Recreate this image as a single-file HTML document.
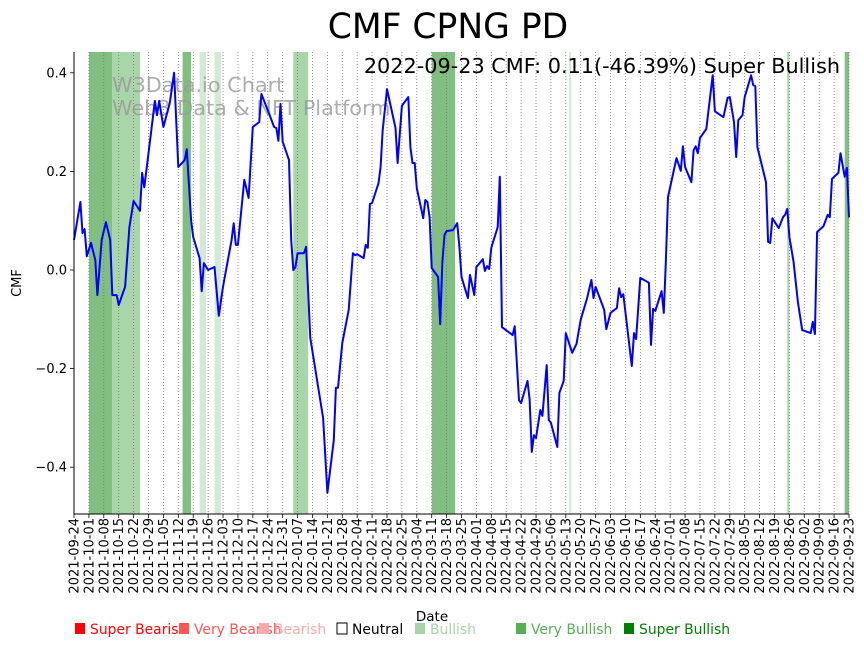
<!DOCTYPE html>
<html><head><meta charset="utf-8">
<style>
body{margin:0;background:#fff;}
svg{display:block;font-family:"DejaVu Sans","Liberation Sans",sans-serif;}
</style></head>
<body>
<svg id="chart" width="864" height="646" viewBox="0 0 864 646" xmlns="http://www.w3.org/2000/svg">
<text x="448" y="38" text-anchor="middle" font-size="34.5" fill="#000">CMF CPNG PD</text>
<g id="bands"></g>
<g id="grid"></g>
<text x="112" y="92" font-size="20.8" fill="#999" opacity="0.8">W3Data.io Chart</text>
<text x="112" y="115" font-size="20.8" fill="#999" opacity="0.8">Web3 Data &amp; NFT Platform</text>
<g id="line"></g>
<text x="840" y="73" text-anchor="end" font-size="20.8" fill="#000">2022-09-23 CMF: 0.11(-46.39%) Super Bullish</text>
<g id="axes"></g>
<text x="432" y="621" text-anchor="middle" font-size="13.5">Date</text>
<text transform="translate(21,283) rotate(-90)" text-anchor="middle" font-size="13">CMF</text>
<g id="legend"></g>
</svg>
<script>
const dayOffsets=[0,3,4,5,6,8,10,11,13,15,17,18,20,21,24,26,28,31,32,33,35,38,39,40,42,45,47,49,52,53,55,56,59,60,61,63,66,68,70,74,75,76,77,80,82,84,87,88,91,94,95,96,97,98,101,102,103,104,105,108,109,111,117,119,122,123,124,126,129,131,132,133,136,137,138,139,140,143,144,145,147,151,152,154,157,158,159,160,161,164,165,166,167,168,171,172,173,174,175,178,180,181,182,185,186,188,189,192,193,194,195,196,199,200,201,206,207,209,210,213,214,215,216,217,219,220,222,223,224,227,228,230,231,234,236,238,241,243,244,245,249,250,252,255,256,257,258,262,263,264,266,270,271,272,273,276,277,278,279,283,285,286,287,290,291,292,293,294,297,300,301,305,307,308,310,311,312,314,315,318,319,320,321,325,326,327,328,331,333,334,335,336,338,340,342,346,347,348,349,352,354,355,356,359,360,362,363,364];
const cmfValues=[0.061,0.138,0.075,0.083,0.028,0.055,0.020,-0.051,0.061,0.097,0.061,-0.051,-0.051,-0.071,-0.034,0.087,0.140,0.120,0.197,0.168,0.237,0.343,0.314,0.343,0.290,0.339,0.400,0.209,0.223,0.245,0.101,0.067,0.024,-0.043,0.014,0.000,0.006,-0.093,-0.034,0.061,0.095,0.051,0.051,0.183,0.146,0.290,0.300,0.357,0.324,0.290,0.288,0.262,0.337,0.260,0.223,0.061,0.000,0.006,0.034,0.034,0.047,-0.138,-0.300,-0.452,-0.345,-0.239,-0.239,-0.148,-0.081,0.034,0.030,0.032,0.024,0.051,0.045,0.134,0.136,0.176,0.209,0.284,0.367,0.288,0.217,0.333,0.351,0.249,0.217,0.217,0.166,0.105,0.142,0.138,0.107,0.004,-0.014,-0.110,0.014,0.071,0.079,0.081,0.095,0.047,-0.014,-0.057,-0.010,-0.051,0.006,0.022,-0.002,0.008,0.002,0.045,0.087,0.189,-0.116,-0.132,-0.114,-0.264,-0.270,-0.225,-0.262,-0.369,-0.335,-0.341,-0.284,-0.296,-0.193,-0.304,-0.310,-0.359,-0.249,-0.225,-0.128,-0.168,-0.150,-0.101,-0.057,-0.020,-0.057,-0.034,-0.081,-0.120,-0.087,-0.077,-0.037,-0.055,-0.049,-0.195,-0.128,-0.140,-0.016,-0.026,-0.152,-0.079,-0.083,-0.043,-0.087,0.020,0.148,0.227,0.201,0.251,0.209,0.178,0.243,0.251,0.237,0.268,0.286,0.395,0.322,0.310,0.349,0.351,0.300,0.229,0.304,0.314,0.351,0.395,0.375,0.373,0.249,0.178,0.057,0.055,0.105,0.085,0.107,0.112,0.124,0.067,0.016,-0.065,-0.122,-0.128,-0.105,-0.130,0.077,0.089,0.112,0.107,0.185,0.197,0.237,0.189,0.207,0.107];
const bandStarts=[7,18,51,59,66,103,168,232.5,335,362];
const bandEnds=[18,31,55,62,69,110,179,233.5,336,364];
const bandLevels=["super","very","super","bull","bull","very","super","bull","very","super"];
const yTicks=[-0.4,-0.2,0.0,0.2,0.4];
const yTickLabels=["\u22120.4","\u22120.2","0.0","0.2","0.4"];
const legendLabels=["Super Bearish","Very Bearish","Bearish","Neutral","Bullish","Very Bullish","Super Bullish"];
const legendColors=["#ff0000","#ff5555","#ffaaaa","none","#a8d5a8","#55b055","#008000"];
const legendX=[74,178,258,336,414,515,623];
const startDate=Date.UTC(2021,8,24);

const NS="http://www.w3.org/2000/svg";
const X0=74,X1=849,Y0=52,Y1=514,DAYS=364;
function xScale(d){return X0+(X1-X0)*d/DAYS;}
function yScale(v){return 270-v*493;}
function mk(tag,attrs,parent){const e=document.createElementNS(NS,tag);for(const k in attrs)e.setAttribute(k,attrs[k]);parent.appendChild(e);return e;}
const bandColor={super:"#80bf80",very:"#a9d6a9",bull:"#d4ead4"};

const bands=document.getElementById('bands');
for(let i=0;i<bandStarts.length;i++){
  const r=mk('rect',{x:xScale(bandStarts[i]),y:Y0,width:xScale(bandEnds[i])-xScale(bandStarts[i]),height:Y1-Y0,fill:bandColor[bandLevels[i]]},bands);
  
  
}
const grid=document.getElementById('grid'),axes=document.getElementById('axes');
for(let d=0;d<=DAYS;d+=7){
  const x=xScale(d);
  const g=mk('line',{x1:x,x2:x,y1:Y0,y2:Y1,stroke:"#777","stroke-width":0.8,"stroke-dasharray":"1,2"},grid);
  
  
  mk('line',{x1:x,x2:x,y1:Y1,y2:Y1+4,stroke:"#000","stroke-width":0.8},axes);
  const dt=new Date(startDate+d*86400000);
  const s=dt.toISOString().slice(0,10);
  const t=mk('text',{transform:`translate(${x+4.5},518) rotate(-90)`,"text-anchor":"end","font-size":13},axes);
  t.textContent=s;
  
  
}
for(let i=0;i<yTicks.length;i++){
  const y=yScale(yTicks[i]);
  mk('line',{x1:X0-4,x2:X0,y1:y,y2:y,stroke:"#000","stroke-width":0.8},axes);
  const t=mk('text',{x:X0-7,y:y+4.5,"text-anchor":"end","font-size":13},axes);
  t.textContent=yTickLabels[i];
  
  
}
const la=mk('line',{x1:X0,x2:X0,y1:Y0,y2:Y1,stroke:"#000","stroke-width":1},axes);


const lb=mk('line',{x1:X0,x2:X1,y1:Y1,y2:Y1,stroke:"#000","stroke-width":1},axes);



const pts=dayOffsets.map((d,i)=>xScale(d).toFixed(1)+","+yScale(cmfValues[i]).toFixed(1)).join(" ");
const pl=mk('polyline',{points:pts,fill:"none",stroke:"#0000ff","stroke-width":2,"stroke-linejoin":"round"},document.getElementById('line'));



const leg=document.getElementById('legend');
for(let i=0;i<legendLabels.length;i++){
  const g=mk('g',{},leg);
  
  
  const col=legendColors[i];
  mk('rect',{x:legendX[i]+1,y:623,width:10,height:11,fill:col==="none"?"#fff":col,stroke:col==="none"?"#000":"none","stroke-width":1},g);
  const t=mk('text',{x:legendX[i]+16,y:634,"font-size":13.9,fill:col==="none"?"#000":col},g);
  t.textContent=legendLabels[i];
}
</script>
</body></html>
